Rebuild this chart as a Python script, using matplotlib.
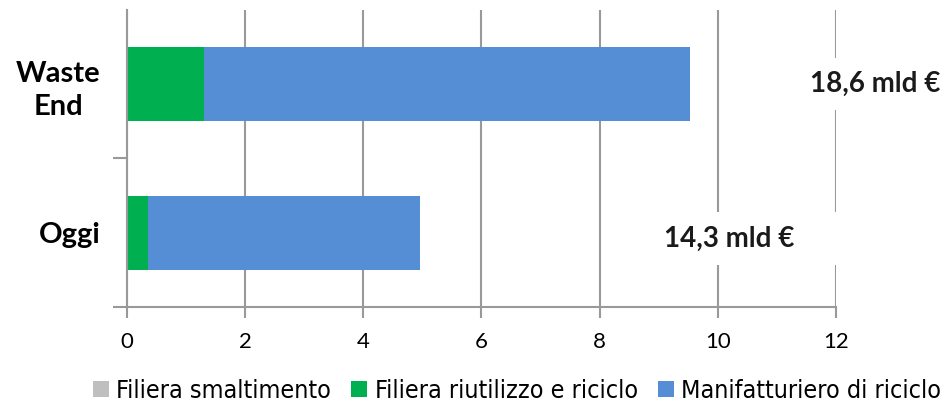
import numpy as np
import matplotlib
matplotlib.use('Agg')
import matplotlib.pyplot as plt

# values (mld €)
categories = ['Oggi', 'Waste\nEnd']
smaltimento = [0.0, 0.0]
riutilizzo = [0.36, 1.30]
manifatturiero = [4.60, 8.23]
totals = ['14,3 mld €', '18,6 mld €']
total_x = [10.2, 12.66]
total_y = [-0.04, 1.0]
series_names = ['Filiera smaltimento', 'Filiera riutilizzo e riciclo', 'Manifatturiero di riciclo']
colors = ['#bfbfbf', '#00b050', '#558ed5']

plt.rcParams['font.family'] = ['Lato', 'DejaVu Sans']
grid_col = '#999999'

fig = plt.figure(figsize=(9.45, 4.05), dpi=100)
ax = fig.add_axes([127/945, 1 - 307/405, (836 - 127)/945, (307 - 10)/405])

y = np.arange(len(categories))
left = np.zeros(len(categories))
for vals, name, c in zip([smaltimento, riutilizzo, manifatturiero], series_names, colors):
    ax.barh(y, vals, left=left, height=0.5, color=c, label=name, zorder=2)
    left = left + np.array(vals)

ax.set_xlim(0, 12)
ax.set_ylim(-0.5, 1.5)
ax.set_xticks(np.arange(0, 13, 2))
ax.tick_params(axis='x', labelsize=16, length=8, width=1.5, color=grid_col, pad=10)

# category boundaries as major ticks, names as minor ticks
ax.set_yticks([-0.5, 0.5])
ax.set_yticklabels([])
ax.set_yticks(y, minor=True)
ax.set_yticklabels(categories, minor=True, fontsize=21, fontweight='bold',
                   multialignment='center', linespacing=1.35)
ax.tick_params(axis='y', which='major', length=10, width=1.5, color=grid_col)
ax.tick_params(axis='y', which='minor', length=0, pad=19)

ax.grid(axis='x', color=grid_col, linewidth=1.5)
ax.set_axisbelow(True)
for s in ['top', 'right']:
    ax.spines[s].set_visible(False)
for s in ['left', 'bottom']:
    ax.spines[s].set_color(grid_col)
    ax.spines[s].set_linewidth(1.5)

for yi, txt, xi in zip(total_y, totals, total_x):
    ax.text(xi, yi, txt, ha='center', va='center', fontsize=20, fontweight='bold',
            color='#1a1a1a', zorder=4, clip_on=False,
            bbox=dict(boxstyle='square,pad=1.9', mutation_aspect=0.25, fc='white', ec='none'))

fig.legend(loc='center', bbox_to_anchor=(517/945, 1 - 391/405), ncol=3, frameon=False,
           prop={'family': ['DejaVu Sans'], 'stretch': 'condensed', 'size': 18},
           handlelength=0.64, handleheight=0.64, handletextpad=0.3, columnspacing=0.8,
           borderaxespad=0)

fig.savefig('out.png', dpi=100)
